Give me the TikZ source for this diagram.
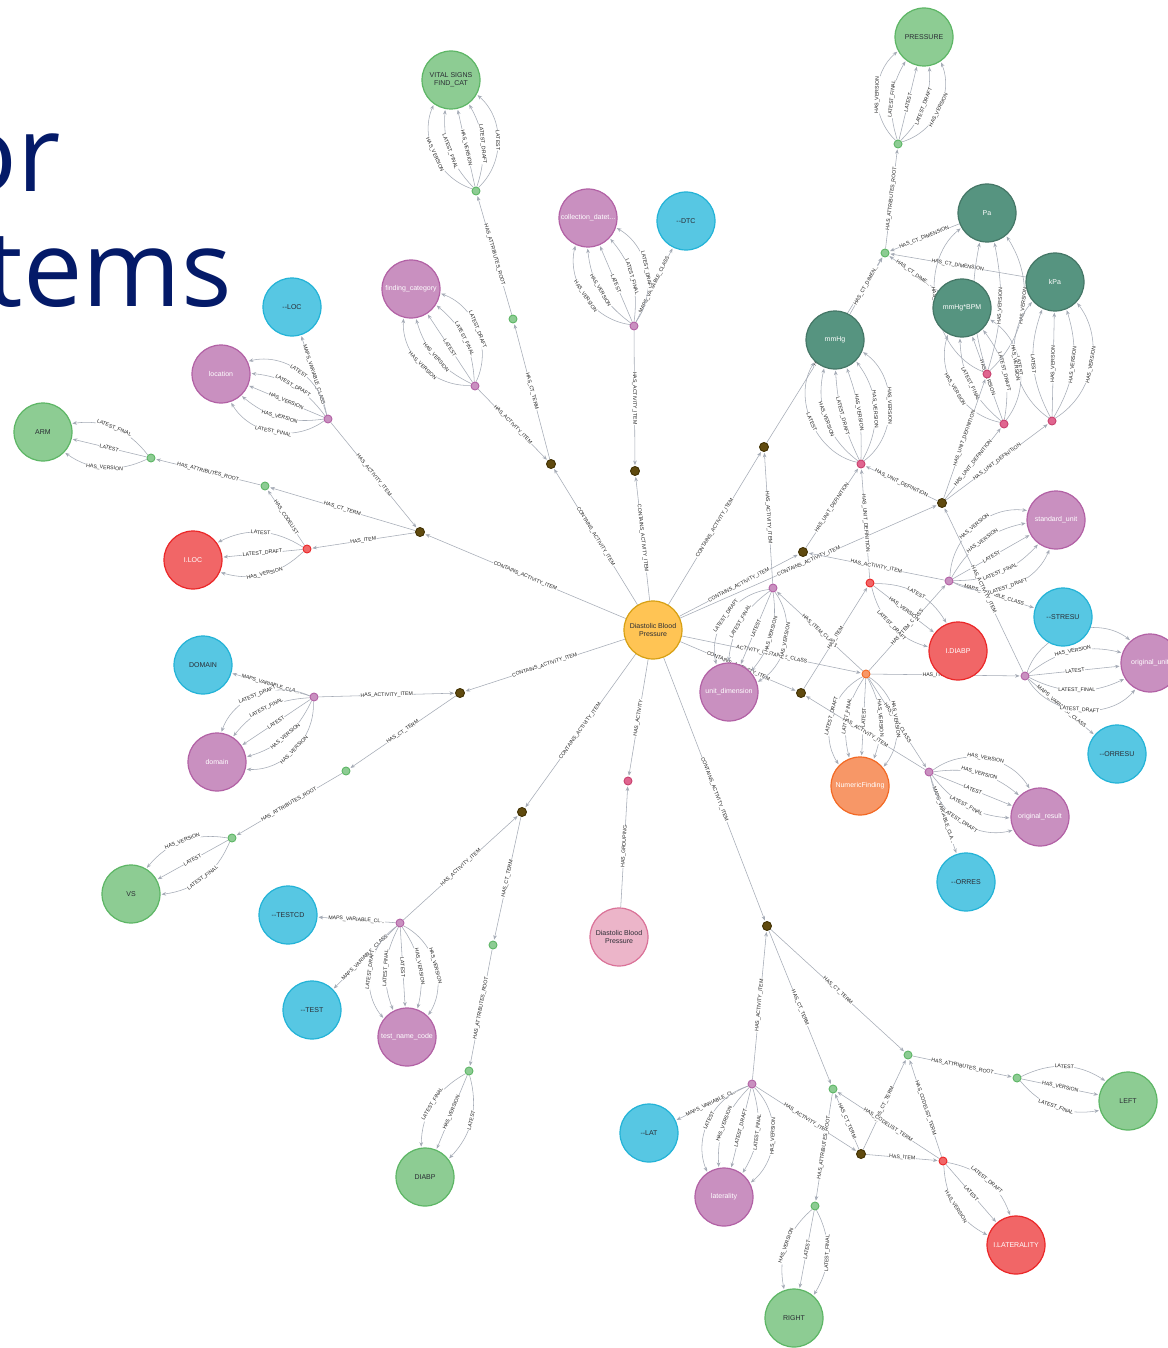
\documentclass[tikz,border=0pt]{standalone}
\usepackage{fontspec}
\setmainfont{Liberation Sans}
\newfontfamily\ttlfont{Open Sans}
\usetikzlibrary{arrows.meta,backgrounds}
\definecolor{cY}{HTML}{FFC454}\definecolor{sY}{HTML}{D7A013}
\definecolor{cG}{HTML}{8DCC93}\definecolor{sG}{HTML}{5DB665}
\definecolor{cT}{HTML}{569480}\definecolor{sT}{HTML}{447666}
\definecolor{cB}{HTML}{57C7E3}\definecolor{sB}{HTML}{23B3D7}
\definecolor{cP}{HTML}{C990C0}\definecolor{sP}{HTML}{B261A5}
\definecolor{cR}{HTML}{F16667}\definecolor{sR}{HTML}{EB2728}
\definecolor{cK}{HTML}{ECB5C9}\definecolor{sK}{HTML}{DA7298}
\definecolor{cO}{HTML}{F79767}\definecolor{sO}{HTML}{F36924}
\definecolor{cN}{HTML}{604A0E}\definecolor{sN}{HTML}{423204}
\definecolor{cH}{HTML}{E0658F}\definecolor{sH}{HTML}{C8406E}
\definecolor{tD}{HTML}{2A2C34}
\definecolor{eC}{HTML}{A5ABB6}
\definecolor{lC}{HTML}{222222}
\definecolor{navy}{HTML}{041A68}
\def\lHV{HAS\_VERSION}
\def\lLT{LATEST}
\def\lLF{LATEST\_FINAL}
\def\lLD{LATEST\_DRAFT}
\newcommand\edgeS[3]{\draw[rel] (#1) -- node[lab]{#3} (#2);}
\newcommand\edgeM[3]{\foreach \bb/\ll in {#3}{\draw[rel] (#1) to[bend left=\bb] node[lab]{\ll} (#2);}}
\begin{document}
\begin{tikzpicture}[x=1pt,y=-1pt,
  big/.style={circle,minimum size=58pt,inner sep=0pt,line width=1.2pt,font=\fontsize{7}{8}\selectfont,align=center},
  sm/.style={circle,minimum size=8pt,inner sep=0pt,line width=0.9pt},
  smb/.style={circle,minimum size=9pt,inner sep=0pt,line width=0.9pt},
  nG/.style={fill=cG,draw=sG,text=tD},
  nT/.style={fill=cT,draw=sT,text=white},
  nB/.style={fill=cB,draw=sB,text=tD},
  nP/.style={fill=cP,draw=sP,text=white},
  nR/.style={fill=cR,draw=sR,text=white},
  nK/.style={fill=cK,draw=sK,text=tD},
  nO/.style={fill=cO,draw=sO,text=white},
  nY/.style={fill=cY,draw=sY,text=tD},
  nN/.style={fill=cN,draw=sN},
  nH/.style={fill=cH,draw=sH},
  rel/.style={draw=eC,line width=0.55pt,-{Stealth[length=4.5pt,width=3.6pt]},shorten >=1pt},
  lab/.style={sloped,midway,fill=white,inner sep=0.5pt,font=\fontsize{5.2}{5.2}\selectfont,text=lC},
  ttl/.style={font=\ttlfont\fontsize{106}{106}\selectfont,text=navy,inner sep=0pt}
]
\useasboundingbox (0,0) rectangle (1167,1348);
% title
\begin{scope}
\clip (0,0) rectangle (1167,1348);
\node[ttl,anchor=base east] (t1) at (61,192) {or};
\node[ttl,anchor=base east] (t2) at (232,306) {Items};
\end{scope}
% big nodes
\node[big,nY] (C) at (653,630) {Diastolic Blood\\Pressure};
\node[big,nG] (pressure) at (924,37) {PRESSURE};
\node[big,nG] (vital) at (451,80) {VITAL SIGNS\\FIND\_CAT};
\node[big,nG] (arm) at (43,432) {ARM};
\node[big,nG] (vs) at (131,894) {VS};
\node[big,nG] (diabp) at (425,1177) {DIABP};
\node[big,nG] (left) at (1128,1101) {LEFT};
\node[big,nG] (right) at (794,1318) {RIGHT};
\node[big,nT] (pa) at (987,213) {Pa};
\node[big,nT] (kpa) at (1055,282) {kPa};
\node[big,nT] (bpm) at (962,308) {mmHg*BPM};
\node[big,nT] (mmhg) at (835,340) {mmHg};
\node[big,nB] (loc) at (292,307) {-{}-LOC};
\node[big,nB] (dtc) at (686,221) {-{}-DTC};
\node[big,nB] (dom) at (203,665) {DOMAIN};
\node[big,nB] (testcd) at (288,915) {-{}-TESTCD};
\node[big,nB] (test) at (312,1010) {-{}-TEST};
\node[big,nB] (lat) at (649,1133) {-{}-LAT};
\node[big,nB] (stresu) at (1063,617) {-{}-STRESU};
\node[big,nB] (orresu) at (1117,754) {-{}-ORRESU};
\node[big,nB] (orres) at (966,882) {-{}-ORRES};
\node[big,nP] (location) at (221,374) {location};
\node[big,nP] (fcat) at (411,289) {finding\_category};
\node[big,nP] (coll) at (588,218) {collection\_datet...};
\node[big,nP] (sunit) at (1056,520) {standard\_unit};
\node[big,nP] (ounit) at (1150,663) {original\_unit};
\node[big,nP] (udim) at (729,692) {unit\_dimension};
\node[big,nP] (domain) at (217,762) {domain};
\node[big,nP] (ores) at (1040,817) {original\_result};
\node[big,nP] (tname) at (407,1037) {test\_name\_code};
\node[big,nP] (later) at (724,1197) {laterality};
\node[big,nR] (iloc) at (193,560) {I.LOC};
\node[big,nR] (idiabp) at (958,651) {I.DIABP};
\node[big,nR] (ilat) at (1016,1245) {I.LATERALITY};
\node[big,nK] (group) at (619,937) {Diastolic Blood\\Pressure};
\node[big,nO] (nf) at (860,786) {NumericFinding};
% small nodes
\node[smb,nN] (b1) at (420,532) {};
\node[smb,nN] (b2) at (551,464) {};
\node[smb,nN] (b3) at (635,471) {};
\node[smb,nN] (b4) at (764,447) {};
\node[smb,nN] (b5) at (803,552) {};
\node[smb,nN] (b6) at (942,503) {};
\node[smb,nN] (b7) at (801,693) {};
\node[smb,nN] (b8) at (460,693) {};
\node[smb,nN] (b9) at (522,812) {};
\node[smb,nN] (b10) at (767,926) {};
\node[smb,nN] (b11) at (861,1154) {};
\node[sm,nG] (gpr) at (898,144) {};
\node[sm,nG] (gdim) at (885,253) {};
\node[sm,nG] (gvit) at (476,191) {};
\node[sm,nG] (gfc) at (513,319) {};
\node[sm,nG] (garm) at (151,458) {};
\node[sm,nG] (gloc) at (265,486) {};
\node[sm,nG] (gdom) at (346,771) {};
\node[sm,nG] (gvs) at (232,838) {};
\node[sm,nG] (gtest) at (493,945) {};
\node[sm,nG] (gdia) at (469,1071) {};
\node[sm,nG] (gl1) at (908,1055) {};
\node[sm,nG] (gl2) at (1017,1078) {};
\node[sm,nG] (gr1) at (833,1089) {};
\node[sm,nG] (gr2) at (815,1206) {};
\node[sm,nP] (ploc) at (328,419) {};
\node[sm,nP] (pfc) at (475,386) {};
\node[sm,nP] (pcoll) at (634,326) {};
\node[sm,nP] (pud) at (773,588) {};
\node[sm,nP] (psu) at (949,581) {};
\node[sm,nP] (pou) at (1025,676) {};
\node[sm,nP] (pdom) at (314,697) {};
\node[sm,nP] (por) at (929,772) {};
\node[sm,nP] (ptn) at (400,923) {};
\node[sm,nP] (plat) at (752,1084) {};
\node[sm,nR] (rloc) at (307,549) {};
\node[sm,nR] (rdia) at (870,583) {};
\node[sm,nR] (rlat) at (943,1161) {};
\node[sm,nH] (kgrp) at (628,781) {};
\node[sm,nH] (kmm) at (861,464) {};
\node[sm,nH] (kbpm) at (987,374) {};
\node[sm,nH] (k2) at (1004,424) {};
\node[sm,nH] (kkpa) at (1052,421) {};
\node[sm,nO] (onf) at (866,674) {};
% edges
\begin{scope}[on background layer]
\fill[white] (0,0) rectangle (1167,1348);
% centre
\edgeS{C}{b1}{CONTAINS\_ACTIVITY\_ITEM}
\edgeS{C}{b2}{CONTAINS\_ACTIVITY\_ITEM}
\edgeS{C}{b3}{CONTAINS\_ACTIVITY\_ITEM}
\edgeS{C}{b4}{CONTAINS\_ACTIVITY\_ITEM}
\edgeS{C}{b5}{CONTAINS\_ACTIVITY\_ITEM}
\edgeS{C}{b6}{CONTAINS\_ACTIVITY\_ITEM}
\edgeS{C}{b7}{CONTAINS\_ACTIVITY\_ITEM}
\edgeS{C}{onf}{ACTIVITY\_INSTANCE\_CLASS}
\edgeS{C}{b8}{CONTAINS\_ACTIVITY\_ITEM}
\edgeS{C}{b9}{CONTAINS\_ACTIVITY\_ITEM}
\edgeS{C}{kgrp}{HAS\_ACTIVITY}
\edgeS{C}{b10}{CONTAINS\_ACTIVITY\_ITEM}
\edgeS{group}{kgrp}{HAS\_GROUPING}
% location
\edgeS{ploc}{b1}{HAS\_ACTIVITY\_ITEM}
\edgeS{b1}{gloc}{HAS\_CT\_TERM}
\edgeS{b1}{rloc}{HAS\_ITEM}
\edgeS{rloc}{gloc}{HAS\_CODELIST}
\edgeS{gloc}{garm}{HAS\_ATTRIBUTES\_ROOT}
\edgeS{ploc}{loc}{MAPS\_VARIABLE\_CLASS}
\edgeM{ploc}{location}{-48/\lLT,-24/\lLD,0/\lHV,24/\lHV,48/\lLF}
\edgeM{garm}{arm}{-30/\lLF,0/\lLT,30/\lHV}
\edgeM{rloc}{iloc}{-30/\lLT,0/\lLD,30/\lHV}
% finding category
\edgeS{pfc}{b2}{HAS\_ACTIVITY\_ITEM}
\edgeS{b2}{gfc}{HAS\_CT\_TERM}
\edgeS{gfc}{gvit}{HAS\_ATTRIBUTES\_ROOT}
\edgeM{gvit}{vital}{-48/\lLT,-24/\lLD,0/\lHV,24/\lLF,48/\lHV}
\edgeM{pfc}{fcat}{-48/\lLD,-24/\lLF,0/\lLT,24/\lHV,48/\lHV}
% collection
\edgeS{pcoll}{b3}{HAS\_ACTIVITY\_ITEM}
\edgeS{pcoll}{dtc}{MAPS\_VARIABLE\_CLASS}
\edgeM{pcoll}{coll}{-48/\lLD,-24/\lLF,0/\lLT,24/\lHV,48/\lHV}
% units
\edgeS{pud}{b4}{HAS\_ACTIVITY\_ITEM}
\edgeS{b4}{gdim}{HAS\_CT\_TERM}
\edgeS{gdim}{gpr}{HAS\_ATTRIBUTES\_ROOT}
\edgeM{gpr}{pressure}{-48/\lHV,-24/\lLD,0/\lLT,24/\lLF,48/\lHV}
\edgeS{mmhg}{gdim}{HAS\_CT\_DIMEN...}
\edgeS{pa}{gdim}{HAS\_CT\_DIMENSION}
\edgeS{kpa}{gdim}{HAS\_CT\_DIMENSION}
\edgeS{bpm}{gdim}{HAS\_CT\_DIME...}
\edgeM{kmm}{mmhg}{-55/\lHV,-33/\lHV,-11/\lHV,11/\lLD,33/\lHV,55/\lLT}
\edgeM{k2}{bpm}{-48/\lLT,-24/\lLD,0/\lHV,24/\lLF,48/\lHV}
\edgeM{kbpm}{pa}{-40/\lHV,-14/\lHV,14/\lLT,60/\lHV}
\edgeM{kkpa}{kpa}{-48/\lHV,-24/\lHV,0/\lHV,24/\lLT,48/\lHV}
\edgeS{b5}{kmm}{HAS\_UNIT\_DEFINITION}
\edgeS{b6}{kmm}{HAS\_UNIT\_DEFINITION}
\edgeS{b6}{kbpm}{HAS\_UNIT\_DEFINITION}
\edgeS{b6}{k2}{HAS\_UNIT\_DEFINITION}
\edgeS{b6}{kkpa}{HAS\_UNIT\_DEFINITION}
\edgeS{rdia}{kmm}{HAS\_UNIT\_DEFINITION}
\edgeM{pud}{udim}{-48/\lLD,-24/\lLF,0/\lLT,24/\lHV,48/\lHV}
\edgeS{psu}{b5}{HAS\_ACTIVITY\_ITEM}
\edgeS{psu}{stresu}{MAPS\_VARIABLE\_CLASS}
\edgeM{psu}{sunit}{-48/\lLD,-24/\lLF,0/\lLT,24/\lHV,48/\lHV}
\edgeS{onf}{pud}{HAS\_ITEM\_CLASS}
\edgeS{onf}{psu}{HAS\_ITEM\_CLASS}
\edgeS{onf}{pou}{HAS\_ITEM\_CLASS}
\edgeS{onf}{por}{HAS\_ITEM\_CLASS}
\edgeM{onf}{nf}{-48/\lLD,-24/\lLF,0/\lLT,24/\lHV,48/\lHV}
\edgeS{b7}{rdia}{HAS\_ITEM}
\edgeM{rdia}{idiabp}{-30/\lLD,0/\lHV,30/\lLT}
\edgeS{pou}{b6}{HAS\_ACTIVITY\_ITEM}
\edgeS{pou}{orresu}{MAPS\_VARIABLE\_CLASS}
\edgeM{pou}{ounit}{-55/\lLD,-26/\lLF,0/\lLT,26/\lHV,55/\lHV}
\edgeS{por}{b7}{HAS\_ACTIVITY\_ITEM}
\edgeS{por}{orres}{MAPS\_VARIABLE\_CLA...}
\edgeM{por}{ores}{-48/\lLD,-24/\lLF,0/\lLT,24/\lHV,48/\lHV}
% domain
\edgeS{pdom}{b8}{HAS\_ACTIVITY\_ITEM}
\edgeS{b8}{gdom}{HAS\_CT\_TERM}
\edgeS{gdom}{gvs}{HAS\_ATTRIBUTES\_ROOT}
\edgeS{pdom}{dom}{MAPS\_VARIABLE\_CLA...}
\edgeM{pdom}{domain}{-48/\lLD,-24/\lLF,0/\lLT,24/\lHV,48/\lHV}
\edgeM{gvs}{vs}{-30/\lHV,0/\lLT,30/\lLF}
% test
\edgeS{ptn}{b9}{HAS\_ACTIVITY\_ITEM}
\edgeS{b9}{gtest}{HAS\_CT\_TERM}
\edgeS{gtest}{gdia}{HAS\_ATTRIBUTES\_ROOT}
\edgeS{ptn}{testcd}{MAPS\_VARIABLE\_CL...}
\edgeS{ptn}{test}{MAPS\_VARIABLE\_CLASS}
\edgeM{ptn}{tname}{-48/\lLD,-24/\lLF,0/\lLT,24/\lHV,48/\lHV}
\edgeM{gdia}{diabp}{-30/\lLF,0/\lHV,30/\lLT}
% laterality
\edgeS{plat}{b10}{HAS\_ACTIVITY\_ITEM}
\edgeS{b10}{gl1}{HAS\_CT\_TERM}
\edgeS{b10}{gr1}{HAS\_CT\_TERM}
\edgeS{plat}{b11}{HAS\_ACTIVITY\_ITEM}
\edgeS{b11}{gl1}{HAS\_CT\_TERM}
\edgeS{b11}{gr1}{HAS\_CT\_TERM}
\edgeS{b11}{rlat}{HAS\_ITEM}
\edgeS{rlat}{gl1}{HAS\_CODELIST\_TERM}
\edgeS{rlat}{gr1}{HAS\_CODELIST\_TERM}
\edgeS{gl1}{gl2}{HAS\_ATTRIBUTES\_ROOT}
\edgeS{gr1}{gr2}{HAS\_ATTRIBUTES\_ROOT}
\edgeS{plat}{lat}{MAPS\_VARIABLE\_CL...}
\edgeM{plat}{later}{-48/\lLT,-24/\lHV,0/\lLD,24/\lLF,48/\lHV}
\edgeM{gl2}{left}{-30/\lLF,0/\lHV,30/\lLT}
\edgeM{gr2}{right}{-30/\lHV,0/\lLT,30/\lLF}
\edgeM{rlat}{ilat}{-30/\lHV,0/\lLT,30/\lLD}
\end{scope}
\end{tikzpicture}
\end{document}
